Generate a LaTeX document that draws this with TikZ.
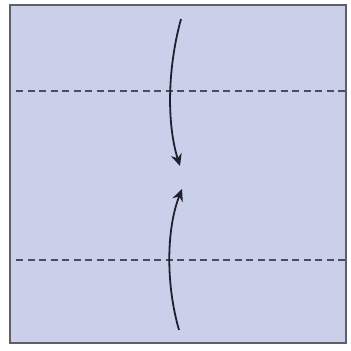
\documentclass[tikz,border=0pt]{standalone}
\usepackage{xcolor}
\usetikzlibrary{arrows.meta}
\definecolor{paper}{RGB}{203,208,234}
\definecolor{edge}{RGB}{95,95,105}
\definecolor{ink}{RGB}{30,32,45}

\begin{document}
\begin{tikzpicture}[x=1pt, y=-1pt, >={Stealth[length=12pt,width=11pt,inset=4pt]},
  valley/.style={draw=ink!80, line width=2.2pt, dash pattern=on 7pt off 4.5pt},
  foldarrow/.style={draw=ink, line width=1.8pt, ->}]
  \useasboundingbox (0,0) rectangle (351,351);
  % sheet
  \draw[edge, fill=paper, line width=1.3pt] (10,5) rectangle (346,343);
  % fold lines
  \coordinate (ua) at (16,91);
  \coordinate (ub) at (346,91);
  \coordinate (la) at (16,260);
  \coordinate (lb) at (346,260);
  \draw[valley] (ua) -- (ub);
  \draw[valley] (la) -- (lb);
  % arrows to the middle
  \coordinate (topstart) at (181,19);
  \coordinate (topend) at (180,166);
  \coordinate (botstart) at (179,330);
  \coordinate (botend) at (182,189);
  \draw[foldarrow] (topstart) .. controls (167,70) and (167,125) .. (topend);
  \draw[foldarrow] (botstart) .. controls (166,285) and (166,230) .. (botend);
\end{tikzpicture}
\end{document}
